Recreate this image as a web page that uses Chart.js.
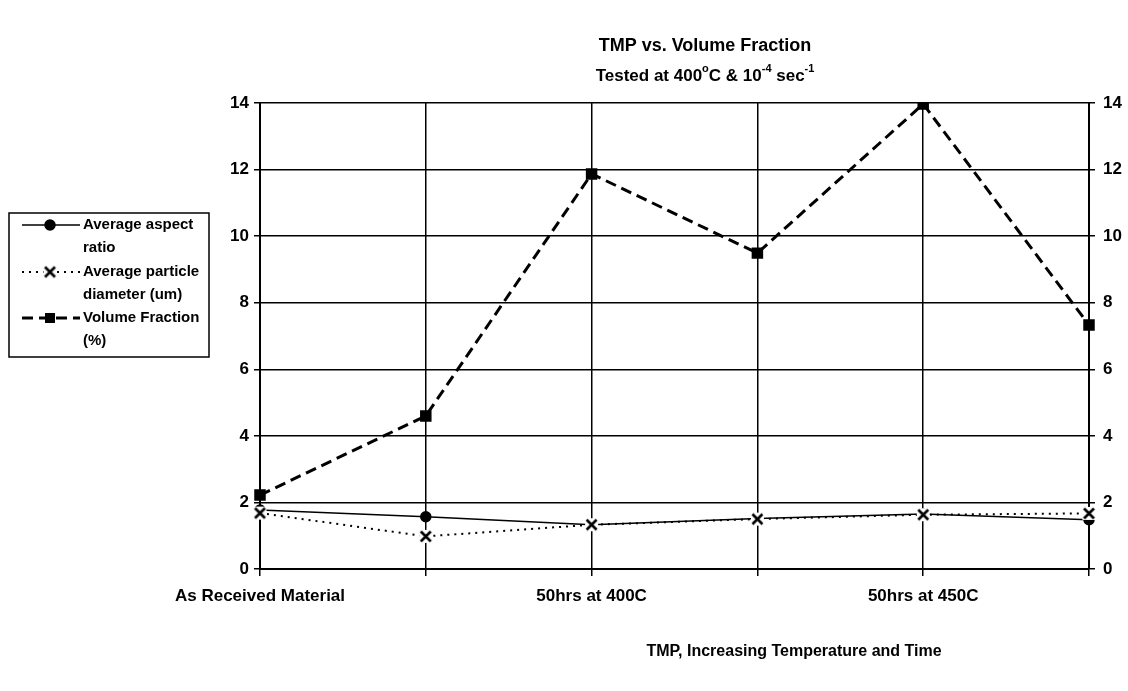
<!DOCTYPE html>
<html>
<head>
<meta charset="utf-8">
<script src="https://cdn.jsdelivr.net/npm/chart.js@4/dist/chart.umd.min.js"></script>
<style>
  html, body { margin: 0; padding: 0; background: #fff; }
  #wrap { width: 1128px; height: 691px; position: relative; }
</style>
</head>
<body>
<div id="wrap"><canvas id="myChart" width="1128" height="691"></canvas></div>
<script>
// categories (only every other one is labelled in the original)
const categories = ['As Received Material', '', '50hrs at 400C', '', '50hrs at 450C', ''];

const aspectRatio = [1.77, 1.57, 1.33, 1.52, 1.65, 1.48];
const particleDiameter = [1.68, 0.98, 1.33, 1.50, 1.63, 1.67];
const volumeFraction = [2.22, 4.6, 11.87, 9.49, 13.97, 7.33];

const yTicks = [0, 2, 4, 6, 8, 10, 12, 14];

const FONT = '"Liberation Sans", Arial, sans-serif';

const seriesNames = [
    ['Average aspect', 'ratio'],
    ['Average particle', 'diameter (um)'],
    ['Volume Fraction', '(%)']
];

// text pieces with superscripts: [text, isSuper]
const subtitleParts = [['Tested at 400', false], ['o', true], ['C & 10', false], ['-4', true], [' sec', false], ['-1', true]];

// excel style "x" marker: white background behind the cross
const xMarker = document.createElement('canvas');
xMarker.width = 15;
xMarker.height = 15;
(function () {
    const m = xMarker.getContext('2d');
    m.fillStyle = '#fff';
    m.fillRect(1, 1, 13, 13);
    m.strokeStyle = '#000';
    m.lineWidth = 2.6;
    m.beginPath();
    m.moveTo(2.5, 2.5); m.lineTo(12.5, 12.5);
    m.moveTo(12.5, 2.5); m.lineTo(2.5, 12.5);
    m.stroke();
})();

function drawParts(c, parts, cx, y, size) {
    const big = 'bold ' + size + 'px ' + FONT;
    const small = 'bold ' + Math.round(size * 0.62) + 'px ' + FONT;
    let total = 0;
    parts.forEach(function (p) {
        c.font = p[1] ? small : big;
        total += c.measureText(p[0]).width;
    });
    let x = cx - total / 2;
    c.textAlign = 'left';
    parts.forEach(function (p) {
        c.font = p[1] ? small : big;
        c.fillText(p[0], x, p[1] ? y - size * 0.4 : y);
        x += c.measureText(p[0]).width;
    });
}

// draws titles and the boxed legend like the old excel chart
const decor = {
    id: 'decor',
    afterDraw(chart) {
        const c = chart.ctx;
        c.save();
        c.fillStyle = '#000';
        c.textAlign = 'center';
        c.textBaseline = 'middle';
        c.font = 'bold 18px ' + FONT;
        c.fillText('TMP vs. Volume Fraction', 705, 46);
        drawParts(c, subtitleParts, 705, 76, 17);
        c.textAlign = 'center';
        c.font = 'bold 16px ' + FONT;
        c.fillText('TMP, Increasing Temperature and Time', 794, 652);

        // legend
        c.lineWidth = 1.5;
        c.strokeStyle = '#000';
        c.strokeRect(9, 213, 200, 144);
        c.textAlign = 'left';
        c.font = 'bold 15px ' + FONT;
        const rows = [225, 272, 318];
        chart.data.datasets.forEach(function (ds, i) {
            const y = rows[i];
            c.save();
            c.lineWidth = ds.borderWidth;
            c.setLineDash(ds.borderDash || []);
            c.beginPath();
            c.moveTo(22, y);
            c.lineTo(80, y);
            c.stroke();
            c.restore();
            Chart.helpers.drawPoint(c, {
                pointStyle: ds.pointStyle,
                radius: ds.pointRadius,
                borderWidth: 2,
                rotation: 0
            }, 50, y);
            c.fillText(seriesNames[i][0], 83, y);
            c.fillText(seriesNames[i][1], 83, y + 23);
        });
        c.restore();
    }
};

const ctx = document.getElementById('myChart').getContext('2d');
Chart.defaults.font.family = FONT;
Chart.defaults.color = '#000';

var myChart = new Chart(ctx, {
    type: 'line',
    data: {
        labels: categories,
        datasets: [{
            label: 'Average aspect ratio',
            data: aspectRatio,
            borderColor: '#000',
            backgroundColor: '#000',
            borderWidth: 1.5,
            pointStyle: 'circle',
            pointRadius: 5,
            order: 3,
            yAxisID: 'y'
        }, {
            label: 'Average particle diameter (um)',
            data: particleDiameter,
            borderColor: '#000',
            backgroundColor: '#000',
            borderWidth: 2,
            borderDash: [2, 5],
            pointStyle: xMarker,
            pointRadius: 6,
            order: 2,
            yAxisID: 'y'
        }, {
            label: 'Volume Fraction (%)',
            data: volumeFraction,
            borderColor: '#000',
            backgroundColor: '#000',
            borderWidth: 3,
            borderDash: [11, 6],
            pointStyle: 'rect',
            pointRadius: 6,
            order: 1,
            yAxisID: 'y'
        }]
    },
    options: {
        responsive: false,
        animation: false,
        layout: { padding: { top: 103, left: 0, right: 0, bottom: 0 } },
        plugins: {
            legend: { display: false },
            tooltip: { enabled: false }
        },
        scales: {
            x: {
                offset: false,
                grid: { color: '#000', lineWidth: 1.5, tickLength: 7 },
                border: { color: '#000', width: 2 },
                ticks: {
                    autoSkip: false,
                    maxRotation: 0,
                    padding: 10,
                    font: { size: 17, weight: 'bold' }
                },
                afterFit: function (scale) { scale.height = 691 - 569; }
            },
            y: {
                position: 'left',
                min: 0,
                max: 14,
                afterBuildTicks: function (scale) { scale.ticks = yTicks.map(function (v) { return { value: v }; }); },
                grid: { color: '#000', lineWidth: 1.5, tickLength: 6 },
                border: { color: '#000', width: 2 },
                ticks: { padding: 5, font: { size: 17, weight: 'bold' } },
                afterFit: function (scale) { scale.width = 260; }
            },
            y2: {
                position: 'right',
                min: 0,
                max: 14,
                afterBuildTicks: function (scale) { scale.ticks = yTicks.map(function (v) { return { value: v }; }); },
                grid: { drawOnChartArea: false, color: '#000', lineWidth: 1.5, tickLength: 6 },
                border: { color: '#000', width: 2 },
                ticks: { padding: 8, font: { size: 17, weight: 'bold' } },
                afterFit: function (scale) { scale.width = 1128 - 1089; }
            }
        }
    },
    plugins: [decor]
});
</script>
</body>
</html>
